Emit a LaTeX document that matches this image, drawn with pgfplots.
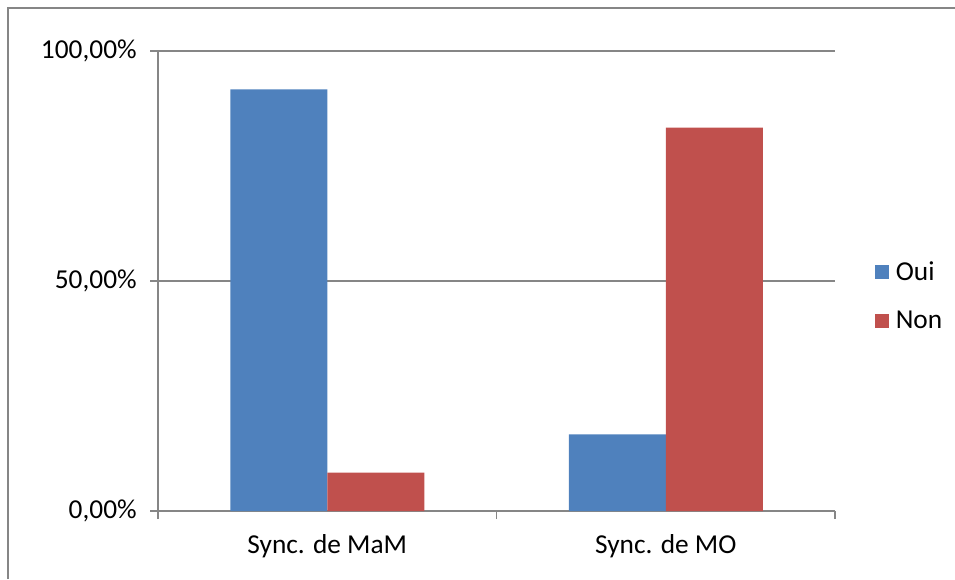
\documentclass[border=0pt]{standalone}
\usepackage{pgfplots}
\pgfplotsset{compat=1.18}
\usepackage{fontspec}
\setmainfont{Carlito}
\definecolor{oui}{HTML}{4F81BD}
\definecolor{non}{HTML}{C0504D}
\definecolor{gridg}{HTML}{868686}
\begin{document}
\begin{tikzpicture}
\useasboundingbox (0,0) rectangle (716.25pt,434.25pt);
\draw[gridg, line width=1.1pt] (6pt,0) -- (6pt,428.25pt) -- (716.25pt,428.25pt);
\begin{axis}[
  at={(118.5pt,51pt)}, anchor=south west,
  scale only axis, width=507.75pt, height=345pt,
  ybar=0pt, bar width=72.75pt,
  xmin=-0.5, xmax=1.5, ymin=0, ymax=100,
  axis x line*=bottom, axis y line*=left,
  axis line style={gridg, line width=0.9pt, -},
  xtick={0,1}, xticklabels={Sync. de MaM, Sync. de MO},
  minor xtick={-0.5,0.5,1.5},
  ytick={0,50,100}, yticklabels={{0,00\%},{50,00\%},{100,00\%}},
  major x tick style={draw=none},
  minor tick length=6pt, major tick length=6pt,
  tick style={gridg, line width=0.9pt},
  tick align=outside,
  ymajorgrids, grid style={gridg, line width=0.9pt},
  ticklabel style={font=\fontsize{20.5}{24}\selectfont, text=black},
  xticklabel style={yshift=-8pt},
  yticklabel style={xshift=-6.5pt},
  legend style={at={(1.053,0.467)}, anchor=west, draw=none, fill=none,
    font=\fontsize{20.5}{24}\selectfont, row sep=17pt,
    /tikz/every odd column/.append style={column sep=3pt}},
  legend image code/.code={\fill[#1] (0pt,-5.25pt) rectangle (10.5pt,5.25pt);},
  legend cell align=left,
]
\addplot[fill=oui, draw=none] coordinates {(0,91.67) (1,16.67)};
\addplot[fill=non, draw=none] coordinates {(0,8.33) (1,83.33)};
\legend{Oui, Non}
\end{axis}
\end{tikzpicture}
\end{document}
